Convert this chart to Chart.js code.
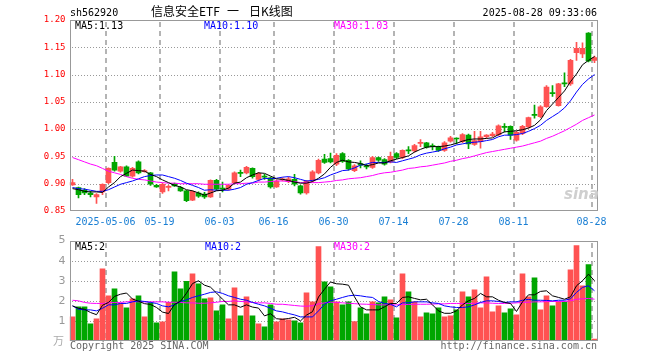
<!DOCTYPE html>
<html>
<head>
<meta charset="utf-8">
<script src="https://cdn.jsdelivr.net/npm/chart.js@4.4.1/dist/chart.umd.min.js"></script>
<style>
  body { margin: 0; width: 660px; height: 360px; background: #fff; position: relative; overflow: hidden; }
  canvas { position: absolute; left: 0; }
  .t { position: absolute; font-family: "DejaVu Sans Mono", monospace; font-size: 10px; line-height: 10px; white-space: nowrap; }
  .cn { font-family: "Noto Sans CJK SC"; font-size: 12px; line-height: 12px; top: 5px; }
</style>
</head>
<body>
<canvas id="k-chart" width="660" height="230" style="top:0"></canvas>
<canvas id="vol-chart" width="660" height="130" style="top:230px"></canvas>

<div class="t" style="left:70px;top:8px">sh562920</div>
<div class="t cn" style="left:151px">信息安全ETF</div>
<div class="t cn" style="left:227px">一</div>
<div class="t cn" style="left:249px">日K线图</div>
<div class="t" style="right:63px;top:8px">2025-08-28 09:33:06</div>

<div class="t" style="left:75px;top:21px;color:#000">MA5:1.13</div>
<div class="t" style="left:204px;top:21px;color:#0000ff">MA10:1.10</div>
<div class="t" style="left:334px;top:21px;color:#ff00ff">MA30:1.03</div>

<div class="t" style="left:75px;top:242px;color:#000">MA5:2</div>
<div class="t" style="left:205px;top:242px;color:#0000ff">MA10:2</div>
<div class="t" style="left:334px;top:242px;color:#ff00ff">MA30:2</div>

<div class="t" style="left:564px;top:187px;font-family:'DejaVu Sans';font-style:italic;font-weight:bold;font-size:15px;line-height:15px;color:#cfcfcf">sina</div>
<div class="t" style="left:53px;top:335px;font-family:'Noto Sans CJK SC';font-size:11px;color:#aaa">万</div>
<div class="t" style="left:70px;top:341px;color:#666">Copyright 2025 SINA.COM</div>
<div class="t" style="right:63px;top:341px;color:#666">http://finance.sina.com.cn</div>

<script>
// 交易日
const dates = [
  '2025-04-23','2025-04-24','2025-04-25','2025-04-28','2025-04-29','2025-04-30',
  '2025-05-06','2025-05-07','2025-05-08','2025-05-09','2025-05-12','2025-05-13','2025-05-14','2025-05-15','2025-05-16',
  '2025-05-19','2025-05-20','2025-05-21','2025-05-22','2025-05-23','2025-05-26','2025-05-27','2025-05-28','2025-05-29','2025-05-30',
  '2025-06-03','2025-06-04','2025-06-05','2025-06-06','2025-06-09','2025-06-10','2025-06-11','2025-06-12','2025-06-13',
  '2025-06-16','2025-06-17','2025-06-18','2025-06-19','2025-06-20','2025-06-23','2025-06-24','2025-06-25','2025-06-26','2025-06-27',
  '2025-06-30','2025-07-01','2025-07-02','2025-07-03','2025-07-04','2025-07-07','2025-07-08','2025-07-09','2025-07-10','2025-07-11',
  '2025-07-14','2025-07-15','2025-07-16','2025-07-17','2025-07-18','2025-07-21','2025-07-22','2025-07-23','2025-07-24','2025-07-25',
  '2025-07-28','2025-07-29','2025-07-30','2025-07-31','2025-08-01','2025-08-04','2025-08-05','2025-08-06','2025-08-07','2025-08-08',
  '2025-08-11','2025-08-12','2025-08-13','2025-08-14','2025-08-15','2025-08-18','2025-08-19','2025-08-20','2025-08-21','2025-08-22',
  '2025-08-25','2025-08-26','2025-08-27','2025-08-28'
];

const openP = [0.898,0.893,0.888,0.883,0.876,0.885,0.902,0.939,0.923,0.931, 0.914,0.940,0.922,0.920,0.897,0.885,0.893,0.900,0.893,0.887,
  0.870,0.883,0.881,0.876,0.906,0.892,0.890,0.902,0.921,0.920, 0.928,0.908,0.913,0.911,0.894,0.907,0.904,0.908,0.896,0.883,
  0.905,0.920,0.945,0.946,0.936,0.955,0.943,0.924,0.937,0.932, 0.930,0.948,0.944,0.940,0.955,0.948,0.962,0.960,0.974,0.975,
  0.969,0.967,0.961,0.978,0.983,0.977,0.989,0.972,0.977,0.986, 0.988,0.990,1.005,1.005,0.980,0.992,1.004,1.027,1.023,1.041,
  1.067,1.043,1.085,1.083,1.140,1.138,1.176,1.126];
const highP = [0.908,0.894,0.891,0.886,0.882,0.900,0.929,0.950,0.932,0.933, 0.930,0.942,0.926,0.921,0.899,0.901,0.897,0.901,0.895,0.888,
  0.887,0.885,0.884,0.907,0.908,0.903,0.898,0.922,0.925,0.932, 0.929,0.921,0.917,0.912,0.907,0.911,0.912,0.917,0.897,0.906,
  0.924,0.945,0.954,0.956,0.955,0.957,0.944,0.935,0.942,0.936, 0.950,0.949,0.946,0.958,0.957,0.962,0.968,0.972,0.981,0.976,
  0.973,0.969,0.977,0.987,0.984,0.992,0.991,0.996,0.996,0.990, 0.994,1.008,1.010,1.006,0.996,1.007,1.022,1.044,1.043,1.080,
  1.080,1.084,1.103,1.128,1.159,1.158,1.177,1.134];
const lowP = [0.897,0.874,0.880,0.876,0.864,0.880,0.900,0.923,0.921,0.913, 0.912,0.918,0.921,0.897,0.893,0.882,0.887,0.895,0.886,0.867,
  0.869,0.875,0.873,0.875,0.888,0.885,0.888,0.900,0.913,0.918, 0.910,0.905,0.908,0.892,0.893,0.905,0.902,0.896,0.881,0.881,
  0.903,0.918,0.937,0.938,0.933,0.939,0.925,0.922,0.929,0.927, 0.928,0.941,0.934,0.938,0.946,0.946,0.955,0.958,0.968,0.965,
  0.962,0.959,0.959,0.976,0.973,0.975,0.964,0.970,0.965,0.983, 0.986,0.988,0.995,0.981,0.978,0.990,1.002,1.020,1.021,1.040,
  1.060,1.042,1.078,1.080,1.126,1.131,1.123,1.122];
const closeP = [0.902,0.880,0.883,0.880,0.880,0.899,0.928,0.925,0.931,0.914, 0.928,0.920,0.924,0.899,0.894,0.899,0.895,0.896,0.887,0.869,
  0.886,0.877,0.876,0.906,0.890,0.890,0.897,0.920,0.919,0.930, 0.913,0.919,0.912,0.894,0.905,0.909,0.909,0.899,0.883,0.905,
  0.922,0.943,0.939,0.940,0.952,0.941,0.927,0.933,0.934,0.931, 0.948,0.943,0.936,0.950,0.948,0.961,0.960,0.970,0.975,0.967,
  0.968,0.961,0.975,0.984,0.982,0.990,0.973,0.979,0.986,0.989, 0.991,1.006,1.003,0.989,0.994,1.005,1.021,1.025,1.041,1.077,
  1.065,1.083,1.083,1.126,1.148,1.148,1.125,1.131];

// 均线
const ma5 = [0.891,0.889,0.886,0.885,0.885,0.884,0.894,0.902,0.913,0.919, 0.925,0.924,0.923,0.917,0.913,0.907,0.902,0.897,0.894,0.889,
  0.887,0.883,0.879,0.883,0.887,0.888,0.892,0.901,0.903,0.911, 0.916,0.920,0.919,0.914,0.909,0.908,0.906,0.903,0.901,0.901,
  0.904,0.910,0.918,0.930,0.939,0.943,0.940,0.939,0.937,0.933, 0.935,0.938,0.938,0.942,0.945,0.948,0.951,0.958,0.963,0.967,
  0.968,0.968,0.969,0.971,0.974,0.978,0.981,0.982,0.982,0.983, 0.984,0.990,0.995,0.996,0.997,0.999,1.002,1.007,1.017,1.034,
  1.046,1.058,1.070,1.087,1.101,1.118,1.126,1.133];
const ma10 = [0.893,0.891,0.890,0.888,0.886,0.886,0.889,0.894,0.899,0.902, 0.905,0.909,0.913,0.915,0.916,0.916,0.913,0.910,0.906,0.901,
  0.897,0.893,0.888,0.889,0.888,0.888,0.888,0.890,0.893,0.899, 0.902,0.906,0.910,0.909,0.910,0.912,0.913,0.911,0.908,0.905,
  0.906,0.908,0.911,0.916,0.920,0.924,0.925,0.929,0.934,0.936, 0.939,0.939,0.939,0.940,0.939,0.942,0.945,0.948,0.953,0.956,
  0.958,0.960,0.964,0.967,0.971,0.973,0.975,0.976,0.977,0.979, 0.981,0.986,0.989,0.989,0.990,0.992,0.996,1.001,1.007,1.016,
  1.023,1.030,1.039,1.052,1.068,1.082,1.092,1.100];
const ma30 = [0.948,0.944,0.940,0.936,0.933,0.928,0.923,0.920,0.917,0.913, 0.910,0.908,0.907,0.905,0.903,0.902,0.901,0.901,0.900,0.900,
  0.900,0.900,0.899,0.899,0.899,0.899,0.899,0.900,0.900,0.901, 0.901,0.903,0.903,0.904,0.905,0.905,0.904,0.904,0.902,0.902,
  0.902,0.902,0.903,0.904,0.906,0.907,0.909,0.910,0.911,0.913, 0.915,0.918,0.920,0.921,0.923,0.925,0.928,0.929,0.931,0.932,
  0.934,0.936,0.938,0.941,0.943,0.946,0.948,0.951,0.954,0.957, 0.959,0.961,0.963,0.965,0.967,0.969,0.972,0.975,0.978,0.983,
  0.987,0.992,0.997,1.003,1.009,1.016,1.021,1.026];

// 成交量
const volume = [1.2,1.7,1.7,0.85,1.1,3.6,2.25,2.6,1.87,1.65, 2.1,2.25,1.2,1.9,0.9,0.95,1.92,3.45,2.6,2.97,
  3.35,2.85,2.1,2.15,1.5,1.8,1.1,2.65,1.25,2.2, 1.25,0.85,0.7,1.8,0.95,1.1,1.05,1.0,0.9,2.4,
  1.95,4.7,2.95,2.7,1.95,1.8,1.95,0.97,1.65,1.35, 1.95,1.9,2.2,2.05,1.15,3.35,2.45,1.95,1.2,1.4,
  1.35,1.65,1.2,1.25,1.55,2.45,2.2,2.55,1.65,3.2, 1.45,1.75,1.4,1.6,1.3,3.35,2.2,3.15,1.55,2.25,
  1.75,1.95,1.95,3.55,4.75,2.75,3.8,0.1];
const volMa5 = [1.75,1.63,1.58,1.42,1.31,1.78,1.92,2.22,2.33,2.39, 2.09,1.98,1.86,1.82,1.67,1.44,1.37,1.82,1.98,2.38,
  2.86,3.0,2.78,2.68,2.39,2.08,1.8,1.8,1.68,1.8, 1.69,1.64,1.25,1.36,1.11,1.08,1.12,1.18,1.0,1.29,
  1.46,2.19,2.58,2.94,2.85,2.83,2.78,2.2,1.7,1.55, 1.55,1.55,1.7,1.87,1.87,2.17,2.2,2.12,2.05,2.08,
  1.8,1.5,1.38,1.38,1.5,1.8,2.0,2.12,2.37,2.2, 2.2,2.03,1.92,1.87,1.47,1.95,2.3,2.3,2.47,2.5,
  2.25,2.17,2.08,2.2,2.75,3.0,3.33,3.0];
const volMa10 = [1.75,1.58,1.55,1.55,1.5,1.63,1.8,1.8,1.87,1.87, 1.95,2.0,1.97,1.92,1.87,1.75,1.7,1.8,1.97,2.05,
  2.17,2.25,2.33,2.42,2.45,2.37,2.25,2.17,2.08,2.03, 1.92,1.83,1.75,1.63,1.5,1.45,1.37,1.3,1.2,1.2,
  1.2,1.5,1.83,2.0,2.08,2.17,2.25,2.28,2.25,2.2, 2.17,1.97,1.87,1.83,1.7,1.9,1.9,1.95,1.95,1.95,
  1.9,1.87,1.75,1.7,1.67,1.67,1.7,1.8,1.92,2.0, 2.0,1.97,1.92,1.95,1.95,2.03,2.07,2.03,2.03,2.02,
  2.0,2.03,2.03,2.1,2.42,2.67,2.75,2.5];
const volMa30 = [2.03,2.0,1.92,1.88,1.87,1.87,1.9,1.92,1.92,1.95, 1.97,1.95,1.95,1.95,1.95,1.95,1.93,1.93,1.92,1.9,
  1.9,1.88,1.88,1.9,1.93,1.97,1.97,2.0,1.97,1.95, 1.92,1.9,1.9,1.87,1.83,1.83,1.8,1.77,1.74,1.73,
  1.76,1.85,1.9,1.93,1.92,1.9,1.88,1.86,1.84,1.83, 1.82,1.8,1.8,1.8,1.8,1.82,1.82,1.83,1.83,1.83,
  1.84,1.85,1.85,1.87,1.87,1.87,1.87,1.88,1.9,1.9, 1.88,1.87,1.87,1.88,1.9,1.92,1.93,1.95,1.95,1.96,
  1.97,1.97,1.97,2.0,2.08,2.1,2.12,2.08];

// 横轴刻度
const tickDates = ['2025-05-06','2025-05-19','2025-06-03','2025-06-16','2025-06-30','2025-07-14','2025-07-28','2025-08-11','2025-08-28'];
const tickLabels = ['2025-05-06','05-19','06-03','06-16','06-30','07-14','07-28','08-11','08-28'];
const priceTicks = [0.85, 1.20, 0.05];
const volTicks = [0, 5, 1];

const UP = '#ff5252';
const DOWN = '#00a600';
const mono = 'DejaVu Sans Mono';

const colors = closeP.map((c, i) => (c >= openP[i] ? UP : DOWN));
const isTick = (i) => tickDates.includes(dates[i]);

// 外框, 网格线画在已有内容的后面
const frame = {
    id: 'frame',
    afterDraw(chart) {
        const { ctx, chartArea: a, scales } = chart;
        const l = Math.round(a.left), r = Math.round(a.right);
        const t = Math.round(a.top), b = Math.round(a.bottom);
        ctx.save();
        ctx.setLineDash([]);
        ctx.globalCompositeOperation = 'destination-over';
        // 横向点线
        ctx.fillStyle = '#999';
        const yScale = scales.y;
        const step = yScale.options.ticks.stepSize;
        for (let v = yScale.min + step; v < yScale.max - step / 2; v += step) {
            const y = Math.round(yScale.getPixelForValue(v));
            for (let x = l + 2; x < r - 1; x += 3) ctx.fillRect(x, y, 1, 1);
        }
        // 竖向虚线
        ctx.fillStyle = '#b4b4b4';
        const xScale = scales.x;
        for (let i = 0; i < dates.length; i++) {
            if (!isTick(i)) continue;
            const x = Math.round(xScale.getPixelForValue(i) - 3);
            for (let y = t + 2; y < b - 1; y += 9) ctx.fillRect(x - 1, y, 2, Math.min(5, b - 1 - y));
        }
        ctx.globalCompositeOperation = 'source-over';
        ctx.fillStyle = '#999';
        ctx.fillRect(l, t, r - l, 1);
        ctx.fillRect(l, b - 1, r - l, 1);
        ctx.fillRect(l, t, 1, b - t);
        ctx.fillRect(r - 1, t, 1, b - t);
        ctx.restore();
    }
};

const maLine = (data, color) => ({
    type: 'line', data, borderColor: color, borderWidth: 1,
    pointRadius: 0, tension: 0, order: 0
});

new Chart(document.getElementById('k-chart').getContext('2d'), {
    type: 'bar',
    data: {
        labels: dates,
        datasets: [
            maLine(ma5, '#000000'),
            maLine(ma10, '#0000ff'),
            maLine(ma30, '#ff00ff'),
            {
                // 实体
                data: openP.map((o, i) => [o, closeP[i]]),
                backgroundColor: colors,
                barThickness: 5,
                minBarLength: 1,
                grouped: false,
                order: 1
            },
            {
                // 影线
                data: lowP.map((l, i) => [l, highP[i]]),
                backgroundColor: colors,
                barThickness: 1,
                grouped: false,
                order: 2
            }
        ]
    },
    options: {
        responsive: false,
        animation: false,
        layout: { padding: { left: 0, right: 62.5, top: 20, bottom: 0 } },
        plugins: { legend: { display: false }, tooltip: { enabled: false } },
        scales: {
            x: {
                offset: true,
                grid: { display: false, drawTicks: false },
                border: { display: false },
                ticks: {
                    autoSkip: false, maxRotation: 0, padding: 5, labelOffset: -3,
                    color: '#1a7fd4', font: { family: mono, size: 10 },
                    callback: (v, i) => {
                        const k = tickDates.indexOf(dates[i]);
                        return k >= 0 ? tickLabels[k] : '';
                    }
                },
                afterFit: (s) => { s.height = 19; }
            },
            y: {
                min: priceTicks[0], max: priceTicks[1],
                grid: { display: false, drawTicks: false },
                border: { display: false },
                ticks: {
                    stepSize: priceTicks[2], padding: 4, color: '#ff0000',
                    font: { family: mono, size: 9 },
                    callback: (v) => v.toFixed(2)
                },
                afterFit: (s) => { s.width = 69.5; }
            }
        }
    },
    plugins: [frame]
});

new Chart(document.getElementById('vol-chart').getContext('2d'), {
    type: 'bar',
    data: {
        labels: dates,
        datasets: [
            maLine(volMa5, '#000000'),
            maLine(volMa10, '#0000ff'),
            maLine(volMa30, '#ff00ff'),
            {
                data: volume,
                backgroundColor: colors,
                barThickness: 5,
                order: 1
            }
        ]
    },
    options: {
        responsive: false,
        animation: false,
        layout: { padding: { left: 0, right: 62.5, top: 10, bottom: 0 } },
        plugins: { legend: { display: false }, tooltip: { enabled: false } },
        scales: {
            x: {
                offset: true,
                grid: { display: false, drawTicks: false },
                border: { display: false },
                ticks: { display: false },
                afterFit: (s) => { s.height = 19; }
            },
            y: {
                min: volTicks[0], max: volTicks[1],
                grid: { display: false, drawTicks: false },
                border: { display: false },
                ticks: {
                    stepSize: volTicks[2], padding: 4, color: '#999',
                    font: { family: 'DejaVu Sans', size: 11 },
                    callback: (v) => (v === 0 ? '' : v)
                },
                afterFit: (s) => { s.width = 69.5; }
            }
        }
    },
    plugins: [frame]
});
</script>
</body>
</html>
